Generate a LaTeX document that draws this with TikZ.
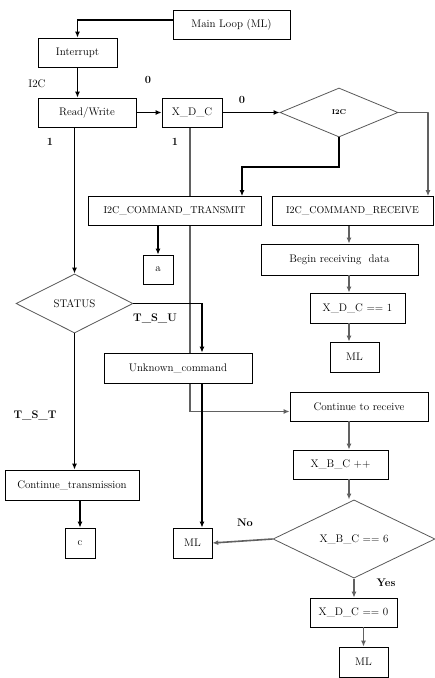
\documentclass[tikz,border=0pt]{standalone}
\usepackage{fontspec}
\usetikzlibrary{shapes.geometric,arrows.meta,backgrounds}

\begin{document}
\begin{tikzpicture}[x=1pt, y=-1pt,
    every node/.style={font=\fontsize{11}{13}\selectfont, inner sep=2pt},
    box/.style={draw, fill=white, line width=0.7pt, minimum height=29pt, align=center},
    decision/.style={diamond, draw=black!65, fill=white, line width=0.8pt, inner sep=0pt},
    lbl/.style={font=\fontsize{11}{13}\selectfont\bfseries},
    blk/.style={line width=1.9pt, -{Latex[length=6pt,width=5pt]}},
    gry/.style={draw=black!62, line width=1.6pt, -{Latex[length=6pt,width=5pt]}}]

  \useasboundingbox (0,0) rectangle (435,678);

  % left and middle column
  \node[box, minimum width=117pt] (main) at (231.5,25) {Main Loop (ML)};
  \node[box, minimum width=79pt] (interrupt) at (77.5,52.5) {Interrupt};
  \node[box, minimum width=98pt] (rw) at (87,112.5) {Read/Write};
  \node[box, minimum width=60pt] (xdc) at (192,112.5) {X\_D\_C};
  \node[decision, minimum width=118pt, minimum height=49pt, font=\scriptsize\bfseries] (i2c) at (339,112.5) {I2C};
  \node[box, minimum width=173pt, font=\fontsize{10}{12}\selectfont] (transmit) at (174.5,211) {I2C\_COMMAND\_TRANSMIT};
  \node[box, minimum width=161pt, font=\fontsize{10}{12}\selectfont] (receive) at (352.5,211) {I2C\_COMMAND\_RECEIVE};
  \node[box, minimum width=30pt] (a) at (158,269.5) {a};
  \node[decision, minimum width=117pt, minimum height=59pt] (status) at (74.5,303.5) {STATUS};
  \node[box, minimum width=148pt, minimum height=30pt] (unknown) at (178,368) {Unknown\_command};
  \node[box, minimum width=134pt, minimum height=30pt] (conttx) at (72,485) {Continue\_transmission};
  \node[box, minimum width=30pt, minimum height=30pt] (c) at (80,543) {c};
  \node[box, minimum width=39pt, minimum height=30pt] (ml2) at (192.5,543) {ML};

  % right column
  \node[box, minimum width=157pt, minimum height=31pt] (begin) at (339.5,259.5) {Begin receiving\ \ data};
  \node[box, minimum width=95pt, minimum height=30pt] (xdc1) at (357.5,308) {X\_D\_C == 1};
  \node[box, minimum width=49pt, minimum height=30pt] (ml1) at (354.5,357) {ML};
  \node[box, minimum width=138pt] (contrx) at (359,406.5) {Continue to receive};
  \node[box, minimum width=95pt] (xbc) at (340.5,464.5) {X\_B\_C ++};
  \node[decision, minimum width=162pt, minimum height=58pt] (xbc6) at (354,539) {X\_B\_C == 6};
  \node[box, minimum width=87pt] (xdc0) at (353.5,612.5) {X\_D\_C == 0};
  \node[box, minimum width=49pt, minimum height=30pt] (ml3) at (363.5,662) {ML};

  % labels
  \node (lbli2c) at (37,84) {I2C};
  \node[lbl] (lblrw0) at (148,80) {0};
  \node[lbl] (lblxdc0) at (242,100) {0};
  \node[lbl] (lblrw1) at (50,142) {1};
  \node[lbl] (lblxdc1) at (175,142) {1};
  \node[lbl] (lbltsu) at (155,318) {T\_S\_U};
  \node[lbl] (lbltst) at (35,415) {T\_S\_T};
  \node[lbl] (lblno) at (245,523) {No};
  \node[lbl] (lblyes) at (386,583) {Yes};

  \coordinate (spine) at (349,0);

  % connectors
  \draw[blk] ([yshift=5pt]main.west) -| (interrupt.north);
  \draw[blk] (interrupt.south) -- (interrupt.south|-rw.north);
  \draw[blk] (rw.east) -- (xdc.west);
  \draw[blk] (xdc.east) -- (i2c.west);
  \draw[blk] (i2c.south) -- ++(0,30) -| ([xshift=67.5pt]transmit.north);
  \draw[gry] (i2c.east) -- ++(30,0) -| ([xshift=75.5pt]receive.north);
  \draw[blk] (a|-transmit.south) -- (a.north);
  \draw[gry] (spine|-receive.south) -- (spine|-begin.north);
  \draw[gry] (spine|-begin.south) -- (spine|-xdc1.north);
  \draw[gry] (spine|-xdc1.south) -- (spine|-ml1.north);
  \draw[gry] (spine|-contrx.south) -- (spine|-xbc.north);
  \draw[gry] (spine|-xbc.south) -- (spine|-xbc6.north);
  \draw[gry] (xbc6.west) -- (ml2.east);
  \draw[gry] (xbc6.south) -- (xbc6.south|-xdc0.north);
  \draw[gry] (ml3|-xdc0.south) -- (ml3.north);
  \draw[blk] (status|-rw.south) -- (status.north);
  \draw[blk] (status.east) -| ([xshift=24pt]unknown.north);
  \draw[blk] ([xshift=24pt]unknown.south) -- ([xshift=24pt]unknown.south|-ml2.north);
  \draw[blk] (status.south) -- (status.south|-conttx.north);
  \draw[blk] (c|-conttx.south) -- (c.north);
  \begin{pgfonlayer}{background}
    \draw[gry] ([xshift=-2pt]xdc.south) |- ([yshift=-5pt]contrx.west);
  \end{pgfonlayer}

\end{tikzpicture}
\end{document}
